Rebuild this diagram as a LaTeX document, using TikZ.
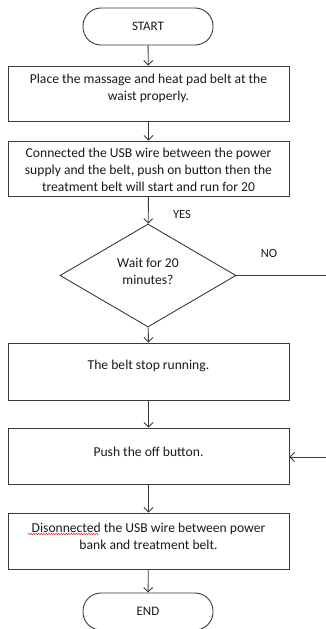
\documentclass[tikz,border=0pt]{standalone}
\usepackage{fontspec}
\setmainfont{Carlito}
\usetikzlibrary{arrows.meta,shapes.geometric,decorations.pathmorphing}
\definecolor{ln}{HTML}{3A3A3A}
\definecolor{tx}{HTML}{1A1A1A}
\definecolor{spell}{HTML}{E03030}
\tikzset{
  box/.style={draw=ln,line width=0.9pt,rectangle,minimum width=281pt,minimum height=55pt,inner sep=0pt},
  term/.style={draw=ln,line width=0.9pt,rectangle,rounded corners=18pt,minimum width=130pt,minimum height=37pt,inner sep=0pt,text=tx,font=\fontsize{13}{15}\selectfont},
  txt/.style={text=tx,align=center,inner sep=0pt,font=\fontsize{13.6}{17}\selectfont},
  lbl/.style={text=tx,inner sep=0pt,font=\fontsize{12.5}{14}\selectfont},
  dec/.style={draw=ln,line width=0.9pt,diamond,minimum width=176pt,minimum height=103pt,inner sep=0pt},
  arr/.style={draw=ln,line width=0.9pt,-{Straight Barb[length=4.5pt,width=9pt]}},
  ln/.style={draw=ln,line width=0.9pt},
  squiggle/.style={draw=spell,line width=0.5pt,decorate,decoration={snake,amplitude=0.7pt,segment length=2.5pt}}
}
\begin{document}
\begin{tikzpicture}[x=1pt,y=-1pt]
\useasboundingbox (0,0) rectangle (326,629);
\node[term] (start) at (148,26.5) {START};
\node[box] (b1) at (148.5,93.5) {};
\node[txt] (t1) at (148.5,88.5) {Place the massage and heat pad belt at the\\waist properly.};
\node[box] (b2) at (148.5,168.5) {};
\node[txt] (t2) at (148.5,170) {Connected the USB wire between the power\\supply and the belt, push on button then the\\treatment belt will start and run for 20};
\node[dec] (d) at (148,275.5) {};
\node[txt] (td) at (148,271) {Wait for 20\\minutes?};
\node[box,minimum height=57pt] (b3) at (148.5,371.5) {};
\node[txt] (t3) at (148.5,366) {The belt stop running.};
\node[box,minimum height=56pt] (b4) at (148.5,456) {};
\node[txt] (t4) at (148.5,452) {Push the off button.};
\node[box,minimum height=56pt] (b5) at (148.5,541) {};
\node[txt] (t5) at (148.5,536.5) {Disonnected the USB wire between power\\bank and treatment belt.};
\node[term] (end) at (148,611.5) {END};
\node[lbl] (yes) at (182,214) {YES};
\node[lbl] (no) at (269,253) {NO};
\coordinate (nout) at (326,275.5);
\coordinate (nin) at (326,457);
\coordinate (sq1) at (28,534);
\coordinate (sq2) at (99,534);
\draw[squiggle] (sq1) -- (sq2);
\draw[arr] (start) -- (b1);
\draw[arr] (b1) -- (b2);
\draw[arr] (b2) -- (d);
\draw[arr] (d) -- (b3);
\draw[arr] (b3) -- (b4);
\draw[arr] (b4) -- (b5);
\draw[arr] (b5) -- (end);
\draw[ln] (d.east) -- (nout);
\draw[arr] (nin) -- (b4.east |- nin);
\end{tikzpicture}
\end{document}
